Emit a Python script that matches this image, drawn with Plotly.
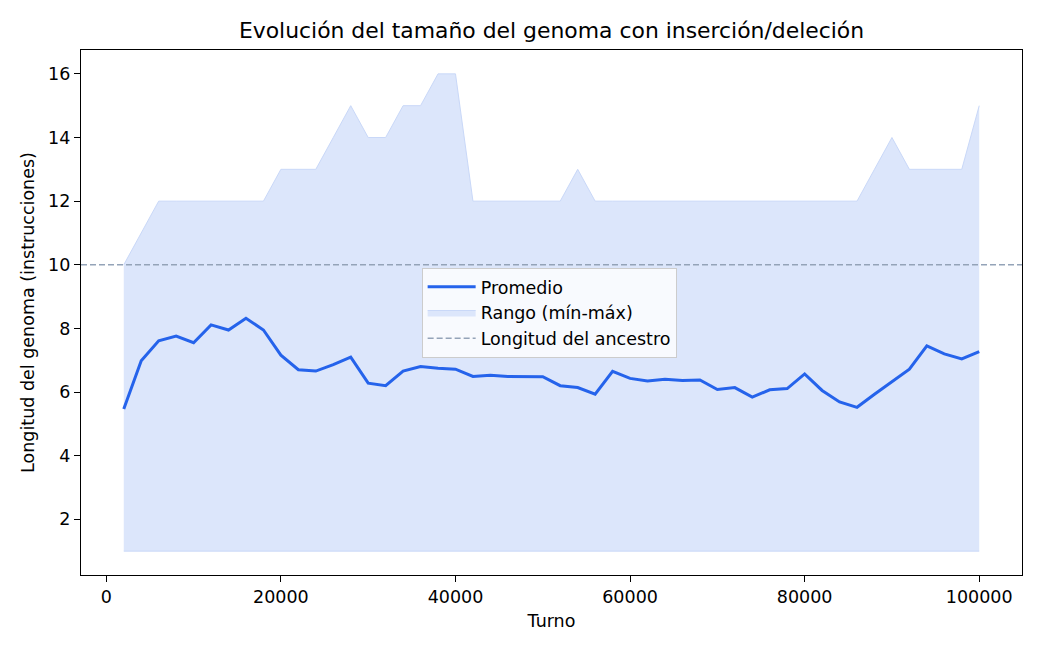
import plotly.graph_objects as go

# turnos muestreados
turnos = list(range(2000, 100001, 2000))

promedio = [5.47, 6.98, 7.61, 7.76, 7.55, 8.11, 7.95, 8.32, 7.95, 7.16,
            6.70, 6.66, 6.86, 7.10, 6.28, 6.20, 6.66, 6.80, 6.75, 6.72,
            6.49, 6.53, 6.49, 6.49, 6.48, 6.20, 6.14, 5.93, 6.65, 6.43,
            6.35, 6.40, 6.36, 6.38, 6.08, 6.14, 5.84, 6.07, 6.11, 6.57,
            6.05, 5.69, 5.52, 5.93, 6.32, 6.72, 7.45, 7.20, 7.04, 7.27]

maximo = [10, 11, 12, 12, 12, 12, 12, 12, 12, 13,
          13, 13, 14, 15, 14, 14, 15, 15, 16, 16,
          12, 12, 12, 12, 12, 12, 13, 12, 12, 12,
          12, 12, 12, 12, 12, 12, 12, 12, 12, 12,
          12, 12, 12, 13, 14, 13, 13, 13, 13, 15]

minimo = [1] * len(turnos)

ancestro = 10

fuente = "DejaVu Sans"

fig = go.Figure()

fig.add_trace(go.Scatter(x=turnos, y=minimo, mode="lines",
                         line=dict(color="#c9d8f8", width=1),
                         showlegend=False, hoverinfo="skip"))
fig.add_trace(go.Scatter(x=turnos, y=maximo, mode="lines", fill="tonexty",
                         fillcolor="rgba(220,230,251,1)",
                         line=dict(color="#c9d8f8", width=1),
                         name="Rango (mín-máx)", legendrank=2))
fig.add_trace(go.Scatter(x=turnos, y=promedio, mode="lines",
                         line=dict(color="#2563eb", width=3),
                         name="Promedio", legendrank=1))

fig.add_shape(type="line", xref="x domain", x0=0, x1=1, yref="y",
              y0=ancestro, y1=ancestro,
              line=dict(color="#94a3b8", width=1.5, dash="6px,3px"),
              showlegend=True, name="Longitud del ancestro", legendrank=3)

eje = dict(showline=True, linecolor="black", linewidth=1.3, mirror=True,
           ticks="outside", ticklen=6, tickwidth=1.3, tickcolor="black",
           showgrid=False, zeroline=False,
           tickfont=dict(size=17.5, color="black"))

fig.update_layout(
    width=1040, height=650,
    margin=dict(l=73, r=26, t=42, b=83, autoexpand=False),
    plot_bgcolor="white", paper_bgcolor="white",
    font=dict(family=fuente, size=17.5, color="black"),
    title=dict(text="Evolución del tamaño del genoma con inserción/deleción",
               x=0.5, xanchor="center", y=1 - 22 / 650, yanchor="middle",
               xref="paper", font=dict(size=21.9)),
    xaxis=dict(eje, range=[-2900, 104900], tickvals=[0, 20000, 40000, 60000, 80000, 100000],
               ticktext=["0", "20000", "40000", "60000", "80000", "100000"],
               title=dict(text="Turno", standoff=8, font=dict(size=17.5))),
    yaxis=dict(eje, range=[0.25, 16.75], tickvals=[2, 4, 6, 8, 10, 12, 14, 16],
               title=dict(text="Longitud del genoma (instrucciones)", standoff=8,
                          font=dict(size=17.5))),
    legend=dict(x=0.362, y=0.585, xanchor="left", yanchor="top",
                traceorder="normal", itemwidth=48,
                bgcolor="rgba(255,255,255,0.8)", bordercolor="#cccccc",
                borderwidth=1, font=dict(size=17.5)),
)

fig.write_html("out.html")
